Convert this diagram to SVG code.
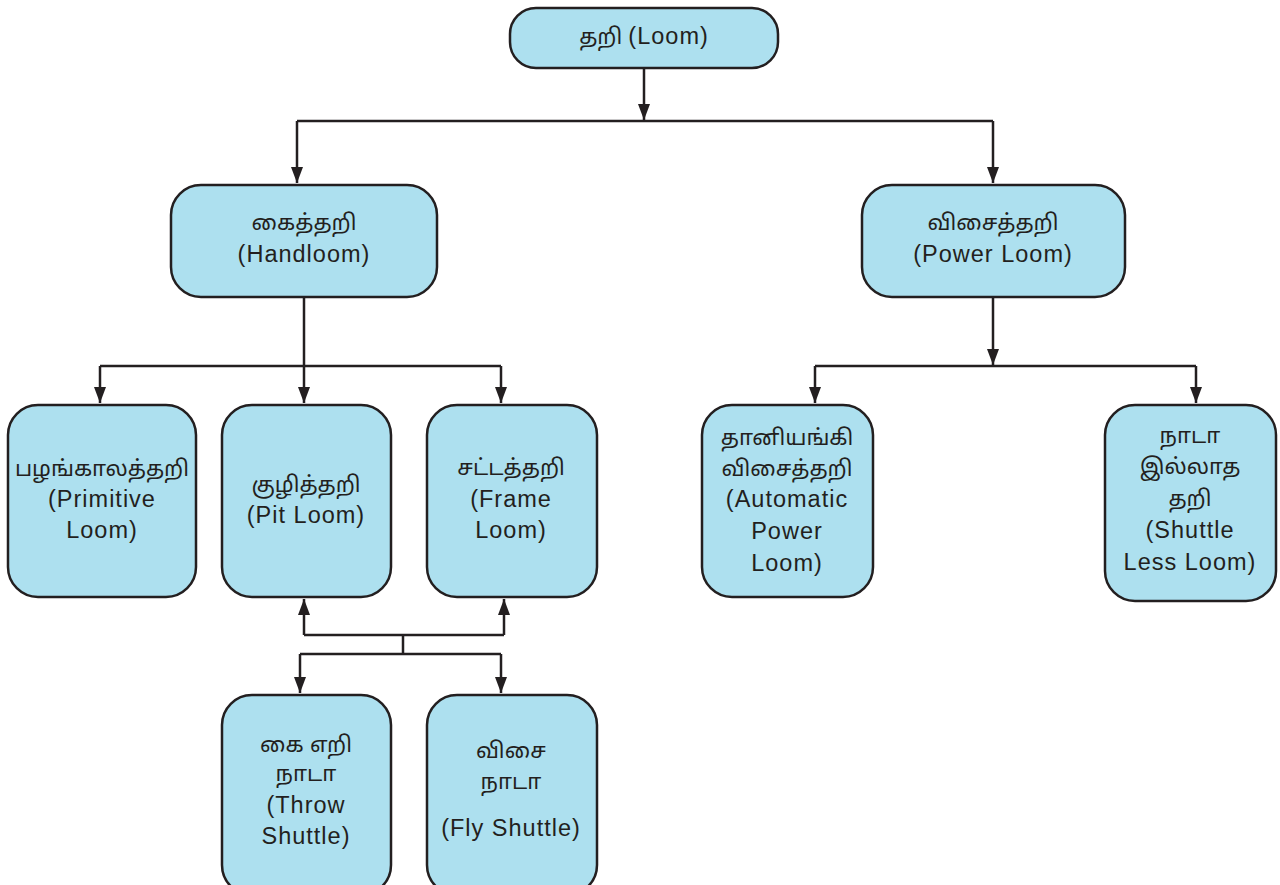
<svg xmlns="http://www.w3.org/2000/svg" width="1280" height="885" viewBox="0 0 1280 885">
<style>
.box{fill:#ade0ef;stroke:#231f20;stroke-width:2.5}
.t{font-family:"Liberation Sans","Noto Sans Tamil","Noto Sans",sans-serif;font-size:22px;fill:#231f20;text-anchor:middle}
.e{font-size:23.5px;letter-spacing:1px}
.c{fill:none;stroke:#231f20;stroke-width:2.5}
</style>
<defs>
<marker id="ah" viewBox="0 0 16 12" refX="16" refY="6" markerWidth="16" markerHeight="12" markerUnits="userSpaceOnUse" orient="auto">
<path d="M0,0 L16,6 L0,12 z" fill="#231f20"/>
</marker>
</defs>
<rect width="1280" height="885" fill="#fff"/>
<g id="connectors">
<path class="c" d="M644,68 V120" marker-end="url(#ah)"/>
<path class="c" d="M297,121 H993"/>
<path class="c" d="M297,121 V183" marker-end="url(#ah)"/>
<path class="c" d="M993,121 V183" marker-end="url(#ah)"/>
<path class="c" d="M304,297 V403" marker-end="url(#ah)"/>
<path class="c" d="M100,366 H501"/>
<path class="c" d="M100,366 V403" marker-end="url(#ah)"/>
<path class="c" d="M501,366 V403" marker-end="url(#ah)"/>
<path class="c" d="M993,297 V365" marker-end="url(#ah)"/>
<path class="c" d="M815,366 H1196"/>
<path class="c" d="M815,366 V403" marker-end="url(#ah)"/>
<path class="c" d="M1196,366 V403" marker-end="url(#ah)"/>
<path class="c" d="M304,635 H504"/>
<path class="c" d="M304,635 V599" marker-end="url(#ah)"/>
<path class="c" d="M504,635 V599" marker-end="url(#ah)"/>
<path class="c" d="M403,635 V654"/>
<path class="c" d="M300,654 H501"/>
<path class="c" d="M300,654 V693" marker-end="url(#ah)"/>
<path class="c" d="M501,654 V693" marker-end="url(#ah)"/>
</g>
<g id="loom">
<rect class="box" x="510" y="8" width="268" height="60" rx="26"/>
<text class="t" x="644" y="44">தறி <tspan class="e">(Loom)</tspan></text>
</g>
<g id="handloom">
<rect class="box" x="171" y="185" width="266" height="112" rx="30"/>
<text class="t" x="304" y="230">கைத்தறி</text>
<text class="t e" x="304" y="262">(Handloom)</text>
</g>
<g id="powerloom">
<rect class="box" x="862" y="185" width="263" height="112" rx="30"/>
<text class="t" x="993" y="230">விசைத்தறி</text>
<text class="t e" x="993" y="262">(Power Loom)</text>
</g>
<g id="primitive">
<rect class="box" x="8" y="405" width="188" height="192" rx="30"/>
<text class="t" x="102" y="476">பழங்காலத்தறி</text>
<text class="t e" x="102" y="507">(Primitive</text>
<text class="t e" x="102" y="538">Loom)</text>
</g>
<g id="pit">
<rect class="box" x="222" y="405" width="169" height="192" rx="30"/>
<text class="t" x="306" y="492">குழித்தறி</text>
<text class="t e" x="306" y="523">(Pit Loom)</text>
</g>
<g id="frame">
<rect class="box" x="427" y="405" width="170" height="192" rx="30"/>
<text class="t" x="511" y="475">சட்டத்தறி</text>
<text class="t e" x="511" y="507">(Frame</text>
<text class="t e" x="511" y="538">Loom)</text>
</g>
<g id="automatic">
<rect class="box" x="702" y="405" width="171" height="192" rx="30"/>
<text class="t" x="787" y="445">தானியங்கி</text>
<text class="t" x="787" y="476">விசைத்தறி</text>
<text class="t e" x="787" y="507">(Automatic</text>
<text class="t e" x="787" y="539">Power</text>
<text class="t e" x="787" y="571">Loom)</text>
</g>
<g id="shuttleless">
<rect class="box" x="1105" y="405" width="171" height="196" rx="30"/>
<text class="t" x="1190" y="443">நாடா</text>
<text class="t" x="1190" y="474">இல்லாத</text>
<text class="t" x="1190" y="506">தறி</text>
<text class="t e" x="1190" y="538">(Shuttle</text>
<text class="t e" x="1190" y="570">Less Loom)</text>
</g>
<g id="throw">
<rect class="box" x="222" y="695" width="169" height="200" rx="30"/>
<text class="t" x="306" y="752">கை எறி</text>
<text class="t" x="306" y="781">நாடா</text>
<text class="t e" x="306" y="813">(Throw</text>
<text class="t e" x="306" y="844">Shuttle)</text>
</g>
<g id="fly">
<rect class="box" x="427" y="695" width="170" height="200" rx="30"/>
<text class="t" x="511" y="758">விசை</text>
<text class="t" x="511" y="789">நாடா</text>
<text class="t e" x="511" y="836">(Fly Shuttle)</text>
</g>
</svg>
